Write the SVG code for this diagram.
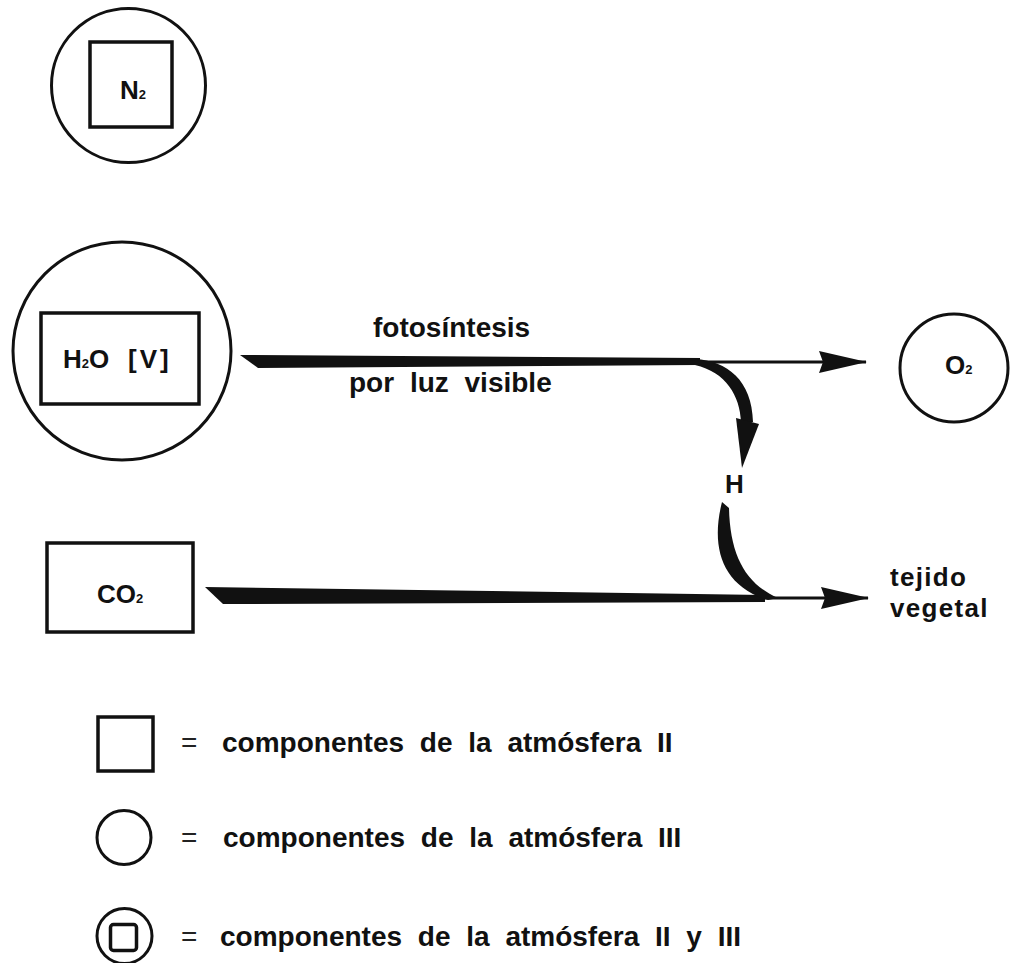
<svg xmlns="http://www.w3.org/2000/svg" width="1021" height="963" viewBox="0 0 1021 963">
<defs>
<style>
.t{font-family:"Liberation Sans",Arial,sans-serif;font-weight:bold;font-size:28px;fill:#111;word-spacing:8px}
.tv{font-family:"Liberation Sans",Arial,sans-serif;font-weight:bold;font-size:26px;letter-spacing:1.3px;fill:#111}
.n{font-family:"Liberation Sans",Arial,sans-serif;font-weight:bold;font-size:26px;fill:#111}
.eq{font-family:"Liberation Sans",Arial,sans-serif;font-weight:normal;font-size:28px;fill:#222}
.sub{font-size:13px}
.c{fill:none;stroke:#111;stroke-width:3}
.r{fill:none;stroke:#111;stroke-width:3.5}
.ink{fill:#111;stroke:none}
.thin{fill:none;stroke:#111;stroke-width:3.2}
</style>
<linearGradient id="scan" x1="0" y1="0" x2="1" y2="0">
<stop offset="0" stop-color="#999" stop-opacity="0"/>
<stop offset="0.4" stop-color="#999" stop-opacity="0.8"/>
<stop offset="1" stop-color="#888" stop-opacity="1"/>
</linearGradient>
<marker id="ah" viewBox="0 0 48 22" refX="47" refY="11" markerWidth="48" markerHeight="22" markerUnits="userSpaceOnUse" orient="auto">
<path d="M0 0 L48 11 L0 22 L4 11 Z" fill="#111"/>
</marker>
</defs>
<rect width="1021" height="963" fill="#fff"/>
<line x1="880" y1="18" x2="1021" y2="18" stroke="url(#scan)" stroke-width="3"/>

<g id="node-n2">
<circle class="c" cx="128.5" cy="85.5" r="77"/>
<rect class="r" x="90" y="42" width="82" height="85"/>
<text class="n" x="120" y="99">N<tspan class="sub">2</tspan></text>
</g>

<g id="node-h2o">
<circle class="c" cx="122" cy="351" r="109"/>
<rect class="r" x="41" y="313" width="158" height="91"/>
<text class="n" x="63" y="368">H<tspan class="sub">2</tspan>O <tspan x="128" letter-spacing="3">[V]</tspan></text>
</g>

<g id="node-co2">
<rect class="r" x="47" y="543" width="146" height="89"/>
<text class="n" x="97" y="603" font-size="24">CO<tspan class="sub">2</tspan></text>
</g>

<g id="node-o2">
<circle class="c" cx="954" cy="368" r="54"/>
<text class="n" x="945" y="374" font-size="23">O<tspan class="sub">2</tspan></text>
</g>

<g id="node-h">
<text class="n" x="725" y="493">H</text>
</g>

<g id="node-tejido">
<text class="tv"><tspan x="890" y="586">tejido</tspan><tspan x="890" y="617">vegetal</tspan></text>
</g>

<g id="labels">
<text class="t" x="373" y="337">fotosíntesis</text>
<text class="t" x="349" y="392">por luz visible</text>
</g>

<g id="connectors">
<polygon class="ink" points="240,355 700,358 700,365 258,368"/>
<path class="thin" d="M690 362 L866 362" marker-end="url(#ah)"/>
<path class="ink" d="M695 359 C727 361 752 380 753 422 L741 422 C740 396 726 372 695 365 Z"/>
<polygon class="ink" points="736,418 759,424 742,468"/>
<polygon class="ink" points="205,587 765,595 765,602 223,604"/>
<path class="thin" d="M750 598 L868 598" marker-end="url(#ah)"/>
<path class="ink" d="M722 502 C711 545 720 585 768 600 L778 598 C746 584 730 556 729 508 Z"/>
</g>

<g id="legend-square">
<rect class="r" x="98" y="717" width="55" height="54"/>
<text class="eq" x="181" y="752">=</text>
<text class="t" x="222" y="752">componentes de la atmósfera II</text>
</g>
<g id="legend-circle">
<circle class="c" cx="124" cy="837.5" r="27"/>
<text class="eq" x="181" y="847">=</text>
<text class="t" x="223" y="847">componentes de la atmósfera III</text>
</g>
<g id="legend-both">
<circle class="c" cx="124.5" cy="936" r="27.5" stroke-width="3.5"/>
<rect class="r" x="110.5" y="924.5" width="26" height="26" rx="3"/>
<text class="eq" x="181" y="946">=</text>
<text class="t" x="220" y="946">componentes de la atmósfera II y III</text>
</g>
</svg>
